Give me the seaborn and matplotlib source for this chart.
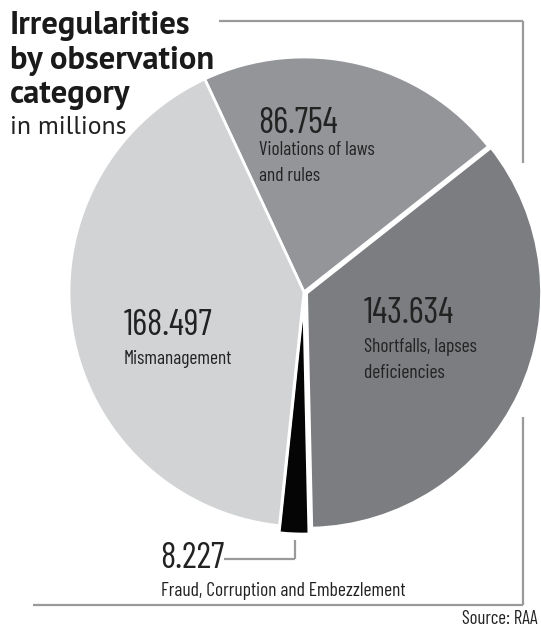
import matplotlib
matplotlib.use("Agg")
import matplotlib.pyplot as plt
from matplotlib.lines import Line2D
import seaborn as sns

# ---- data ----
categories = ["Violations of laws\nand rules", "Shortfalls, lapses\ndeficiencies",
              "Fraud, Corruption and Embezzlement", "Mismanagement"]
values = [86.754, 143.634, 8.227, 168.497]
value_labels = ["86.754", "143.634", "8.227", "168.497"]
colors = ["#939598", "#7b7d80", "#050505", "#d1d3d5"]

sns.set_theme(style="white")
plt.rcParams['font.family'] = ['Barlow Condensed', 'Roboto', 'DejaVu Sans']

W, H = 541, 632
fig = plt.figure(figsize=(W / 100, H / 100), dpi=100)
fig.patch.set_facecolor("white")


def fx(x):
    return x / W


def fy(y):
    return 1 - y / H


# pie axes: centre ~(304, 292) px, radius ~235 px
cx, cy, r = 304, 292, 235
ax = fig.add_axes([fx(cx - r), fy(cy + r), 2 * r / W, 2 * r / H])
wedges, _ = ax.pie(values, colors=colors, startangle=115, counterclock=False,
                   explode=[0, 0.012, 0.03, 0],
                   wedgeprops=dict(edgecolor="white", linewidth=2))
for w in wedges:
    w.set_clip_on(False)
ax.set_xlim(-1, 1)
ax.set_ylim(-1, 1)
ax.set_aspect("equal")
ax.axis("off")

# frame lines
lc = "#9a9a9a"
lw = 1.6
frame = [
    ([219, 523], [21, 21]),
    ([523, 523], [21, 163]),
    ([523, 523], [417, 605]),
    ([33, 523], [605, 605]),
    ([224, 295], [559, 559]),
    ([295, 295], [559, 540]),
]
for xs, ys in frame:
    fig.add_artist(Line2D([fx(v) for v in xs], [fy(v) for v in ys],
                          color=lc, lw=lw, solid_capstyle="butt"))

# title
tfam = ['PT Sans', 'Open Sans', 'DejaVu Sans']
fig.text(fx(10), fy(11), "Irregularities\nby observation\ncategory", ha="left", va="top",
         fontsize=23.5, fontweight="bold", family=tfam, color="#1a1a1a", linespacing=1.2)
fig.text(fx(10), fy(116), "in millions", ha="left", va="top",
         fontsize=18.5, family=tfam, color="#222222")

ncol = "#222222"
nkw = dict(ha="left", va="top", fontsize=26, color=ncol)
lkw = dict(ha="left", va="top", fontsize=14, color=ncol, linespacing=1.6)
# violations
fig.text(fx(258), fy(107), value_labels[0], **nkw)
fig.text(fx(259), fy(141), categories[0], **lkw)
# shortfalls
fig.text(fx(364), fy(297), value_labels[1], **nkw)
fig.text(fx(364), fy(338), categories[1], **lkw)
# mismanagement
fig.text(fx(124), fy(309), value_labels[3], **nkw)
fig.text(fx(124), fy(350), categories[3], **lkw)
# fraud
fig.text(fx(160), fy(542), value_labels[2], **nkw)
fig.text(fx(161), fy(582), categories[2], **lkw)

# source
fig.text(fx(538), fy(610), "Source: RAA", ha="right", va="top", fontsize=13.5, color=ncol)

fig.savefig("out.png", dpi=100, facecolor="white")
